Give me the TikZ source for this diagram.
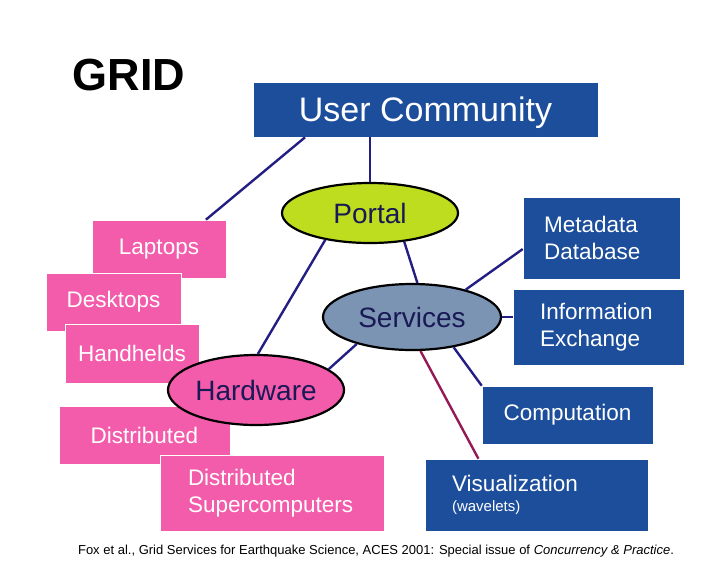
\documentclass[tikz,border=0pt]{standalone}
\usepackage{fontspec}
\setmainfont{Liberation Sans}
\usetikzlibrary{shapes.geometric}
\definecolor{gridblue}{RGB}{28,78,156}
\definecolor{gridpink}{RGB}{242,92,170}
\definecolor{portalgreen}{RGB}{190,221,30}
\definecolor{servicegray}{RGB}{124,148,180}
\definecolor{linknavy}{RGB}{35,30,130}
\definecolor{linkmaroon}{RGB}{150,25,85}
\definecolor{hubtext}{RGB}{25,25,85}
\begin{document}
\begin{tikzpicture}[x=1pt,y=-1pt,
    box/.style={rectangle,draw=white,line width=0.6pt,text=white,inner sep=0pt,
        font=\fontsize{22.5}{27}\selectfont},
    pinkbox/.style={box,fill=gridpink},
    bluebox/.style={box,fill=gridblue},
    hub/.style={ellipse,draw=black,line width=2.2pt,text=hubtext,inner sep=0pt,
        font=\fontsize{28}{30}\selectfont},
    link/.style={draw=linknavy,line width=2.4pt}]
    \useasboundingbox (0,0) rectangle (727,563);
    \node[anchor=base west,font=\fontsize{45}{48}\selectfont\bfseries] (title) at (69,90) {GRID};
    \node[bluebox,minimum width=345,minimum height=55,text depth=0pt,font=\fontsize{34}{36}\selectfont] (user) at (425.5,109.5) {User Community};
    \node[pinkbox,minimum width=134,minimum height=58] (laptops) at (159,249) {Laptops};
    \node[pinkbox,minimum width=135,minimum height=58] (desktops) at (113.5,302) {Desktops};
    \node[pinkbox,minimum width=134,minimum height=59] (handhelds) at (132,353.5) {Handhelds};
    \node[pinkbox,minimum width=171,minimum height=58] (distributed) at (144.5,435) {Distributed};
    \node[pinkbox,minimum height=76,inner xsep=28pt,text width=168,align=left] (supercomp) at (272,493) {Distributed\\Supercomputers};
    \node[hub,fill=portalgreen,minimum width=176,minimum height=60] (portal) at (370,213) {Portal};
    \node[hub,fill=servicegray,minimum width=178,minimum height=66] (services) at (412,317) {Services};
    \node[hub,fill=gridpink,minimum width=176,minimum height=70] (hardware) at (256,390) {Hardware};
    \node[bluebox,minimum height=82,inner xsep=21pt,text width=115,align=left] (metadata) at (601.5,238) {Metadata\\Database};
    \node[bluebox,minimum height=76,inner xsep=27pt,text width=117,align=left] (info) at (598.5,327) {Information\\Exchange};
    \node[bluebox,minimum width=171,minimum height=58] (comp) at (567.5,415) {Computation};
    \node[bluebox,minimum height=72,inner xsep=27pt,text width=169,align=left] (vis) at (536.5,495) {Visualization\\[-7pt]{\fontsize{15}{17}\selectfont (wavelets)}};
    \draw[link] (user.193) -- (laptops.32);
    \draw[link] (portal.north) -- (portal.north |- user.south);
    \draw[link] (portal.211) -- (hardware.87);
    \draw[link] (portal.320) -- (services.81);
    \draw[link] (services.27) -- (metadata.188);
    \draw[link] (services.east) -- (services.east -| info.west);
    \draw[link] (services.324) -- (comp.north west);
    \draw[link,draw=linkmaroon] (services.284) -- (vis.148);
    \draw[link] (services.206) -- (hardware.16);
    \node[anchor=base,font=\fontsize{13}{15}\selectfont] (caption) at (376,554) {Fox et al., Grid Services for Earthquake Science, ACES 2001: Special issue of \textit{Concurrency \& Practice}.};
\end{tikzpicture}
\end{document}
